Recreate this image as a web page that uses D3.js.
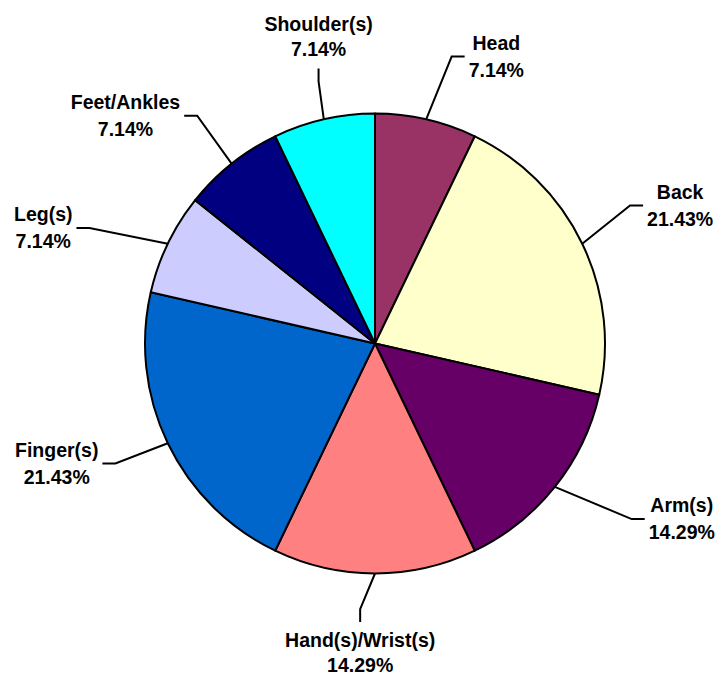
<!DOCTYPE html>
<html>
<head>
<meta charset="utf-8">
<script src="https://cdn.jsdelivr.net/npm/d3@7"></script>
<style>
html,body{margin:0;padding:0;background:#fff;}
text{font-family:"Liberation Sans",Arial,sans-serif;font-weight:bold;font-size:19.5px;fill:#000;}
</style>
</head>
<body>
<svg id="chart" width="719" height="677"></svg>
<script>
const categories = ["Head","Back","Arm(s)","Hand(s)/Wrist(s)","Finger(s)","Leg(s)","Feet/Ankles","Shoulder(s)"];
const counts = [1,3,2,2,3,1,1,1];
const percentLabels = ["7.14%","21.43%","14.29%","14.29%","21.43%","7.14%","7.14%","7.14%"];
const colors = ["#993366","#FFFFCC","#660066","#FF8080","#0066CC","#CCCCFF","#000080","#00FFFF"];

// label layout (leader elbow radius, angle nudge in degrees, tail direction)
const elbowRadius = [297, 290, 311, 266, 286, 308, 289, 268];
const angleNudge = [2.1, -2.7, -4.2, 3.2, 0.9, -3.7, 0.6, 0.7];
const tailDir = ["right","right","right","down","left","left","left","up"];

const W = 719, H = 677, cx = 375, cy = 343.5, R = 230;
const svg = d3.select("#chart");
const g = svg.append("g").attr("transform", `translate(${cx},${cy})`);

const pie = d3.pie().sort(null).value(d => d).startAngle(0).endAngle(2*Math.PI);
const arcs = pie(counts);
const arc = d3.arc().innerRadius(0).outerRadius(R);

g.selectAll("path.slice").data(arcs).enter().append("path")
  .attr("class","slice")
  .attr("d", arc)
  .attr("fill", (d,i) => colors[i])
  .attr("stroke", "#000")
  .attr("stroke-width", 2)
  .attr("stroke-linejoin","round");

const tail = 13, gap = 4, lineH = 27;
arcs.forEach((d,i) => {
  const mid = (d.startAngle + d.endAngle)/2;
  const a0 = mid;
  const p0 = [R*Math.sin(a0), -R*Math.cos(a0)];
  const a1 = mid + angleNudge[i]*Math.PI/180;
  const p1 = [elbowRadius[i]*Math.sin(a1), -elbowRadius[i]*Math.cos(a1)];
  let p2;
  const dir = tailDir[i];
  if (dir === "right") p2 = [p1[0]+tail, p1[1]];
  else if (dir === "left") p2 = [p1[0]-tail, p1[1]];
  else if (dir === "down") p2 = [p1[0], p1[1]+tail];
  else p2 = [p1[0], p1[1]-tail];

  g.append("path")
    .attr("d", d3.line()([p0,p1,p2]))
    .attr("fill","none").attr("stroke","#000").attr("stroke-width",2);

  const t = g.append("text").attr("text-anchor","middle");
  const l1 = t.append("tspan").text(categories[i]);
  const l2 = t.append("tspan").text(percentLabels[i]);
  const w = Math.max(l1.node().getComputedTextLength(), l2.node().getComputedTextLength());
  let x, y1;
  if (dir === "right") { x = p2[0] + gap + w/2; y1 = p2[1] - 7; }
  else if (dir === "left") { x = p2[0] - gap - w/2; y1 = p2[1] - 7; }
  else if (dir === "down") { x = p2[0]; y1 = p2[1] + 25; }
  else { x = p2[0]; y1 = p2[1] - 13 - 25; }
  l1.attr("x", x).attr("y", y1);
  l2.attr("x", x).attr("y", y1 + (dir === "up" || dir === "down" ? 25 : lineH));
});
</script>
</body>
</html>
